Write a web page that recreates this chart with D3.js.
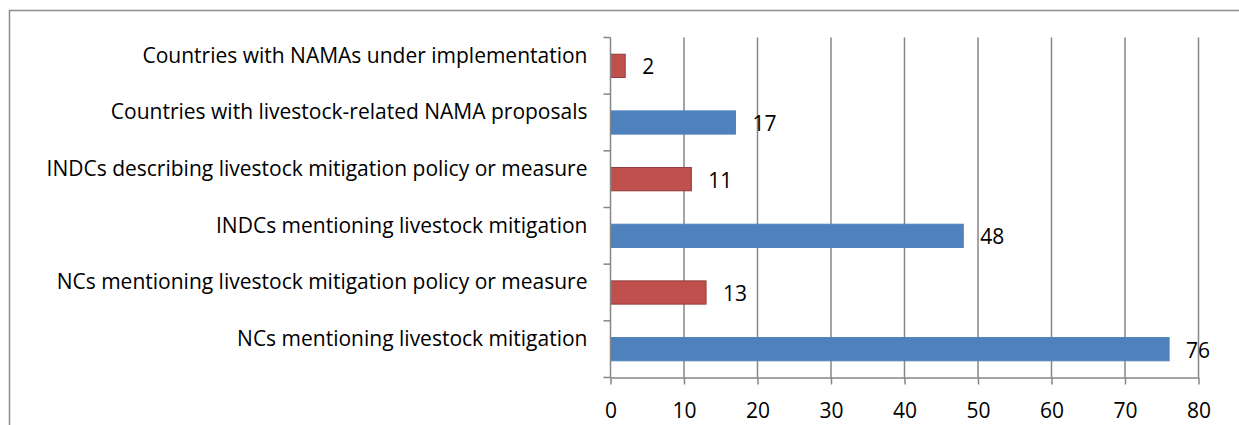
<!DOCTYPE html>
<html><head><meta charset="utf-8">
<script src="https://cdn.jsdelivr.net/npm/d3@7"></script>
<style>body{margin:0;background:#fff}svg{display:block}</style>
</head><body>
<svg id="c" width="1239" height="425"></svg>
<script>
const categories = [
  "Countries with NAMAs under implementation",
  "Countries with livestock-related NAMA proposals",
  "INDCs describing livestock mitigation policy or measure",
  "INDCs mentioning livestock mitigation",
  "NCs mentioning livestock mitigation policy or measure",
  "NCs mentioning livestock mitigation"
];
const values = [2, 17, 11, 48, 13, 76];
const seriesColor = ["red", "blue", "red", "blue", "red", "blue"];
const xTicks = [0, 10, 20, 30, 40, 50, 60, 70, 80];

const fills = {red: "#C0504D", blue: "#4F81BD"};
const strokes = {red: "#8E3B39", blue: "#4F81BD"};

const svg = d3.select("#c");
const FONT = "'Open Sans', Lato, sans-serif";

svg.append("rect").attr("x", 9.5).attr("y", 10.5).attr("width", 1260).attr("height", 440)
  .attr("fill", "none").attr("stroke", "#8c8c8c").attr("stroke-width", 1.5);

const x = d3.scaleLinear().domain([0, 80]).range([610.5, 1198.5]);
const y = d3.scaleBand().domain(categories).range([37.5, 377.5]).paddingInner(0.59).paddingOuter(0.295);
const band = d3.scaleBand().domain(categories).range([37.5, 377.5]);

// gridlines
svg.append("g").selectAll("line").data(xTicks.slice(1)).join("line")
  .attr("x1", d => x(d)).attr("x2", d => x(d))
  .attr("y1", 37.5).attr("y2", 377.5)
  .attr("stroke", "#868686").attr("stroke-width", 1.5);

// bars
svg.append("g").selectAll("rect").data(values).join("rect")
  .attr("x", x(0))
  .attr("y", (d, i) => y(categories[i]))
  .attr("width", d => x(d) - x(0))
  .attr("height", y.bandwidth())
  .attr("fill", (d, i) => fills[seriesColor[i]])
  .attr("stroke", (d, i) => strokes[seriesColor[i]])
  .attr("stroke-width", 1);

// bottom axis
const xAxis = d3.axisBottom(x).tickValues(xTicks).tickSize(7).tickPadding(19).tickSizeOuter(0);
const gx = svg.append("g").attr("transform", "translate(0,377.5)").call(xAxis);
gx.select(".domain").attr("stroke", "#868686").attr("stroke-width", 1.5);
gx.selectAll(".tick line").attr("stroke", "#868686").attr("stroke-width", 1.5);
gx.selectAll("text").attr("font-family", FONT).attr("font-size", 21).attr("fill", "#000");

// left axis
const gy = svg.append("g").attr("transform", "translate(610.5,0)");
gy.append("line").attr("x1", 0).attr("x2", 0).attr("y1", 37.5).attr("y2", 377.5)
  .attr("stroke", "#868686").attr("stroke-width", 1.5);
const bounds = categories.map(c => band(c)).concat([377.5]);
gy.selectAll("line.t").data(bounds).join("line").attr("class", "t")
  .attr("x1", -7).attr("x2", 0).attr("y1", d => d).attr("y2", d => d)
  .attr("stroke", "#868686").attr("stroke-width", 1.5);
gy.selectAll("text").data(categories).join("text")
  .attr("x", -23).attr("y", d => band(d) + band.bandwidth() / 2 - 10.5)
  .attr("dy", "0.35em").attr("text-anchor", "end")
  .attr("font-family", FONT).attr("font-size", 21).attr("fill", "#000")
  .text(d => d);

// value labels
svg.append("g").selectAll("text").data(values).join("text")
  .attr("x", d => x(d) + 17)
  .attr("y", (d, i) => y(categories[i]) + y.bandwidth() / 2 + 1)
  .attr("dy", "0.35em")
  .attr("font-family", FONT).attr("font-size", 21).attr("fill", "#000")
  .text(d => d);
</script>
</body></html>
